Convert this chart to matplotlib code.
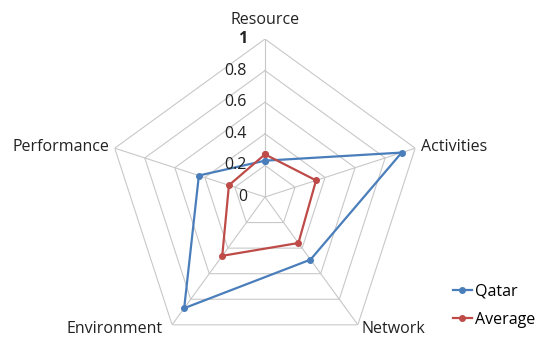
import numpy as np
import matplotlib
matplotlib.use('Agg')
import matplotlib.pyplot as plt

CATEGORIES = ['Resource', 'Activities', 'Network', 'Environment', 'Performance']
QATAR = [0.23, 0.91, 0.49, 0.87, 0.44]
AVERAGE = [0.27, 0.34, 0.36, 0.46, 0.24]
TICKS = [0, 0.2, 0.4, 0.6, 0.8, 1]
TICK_LABELS = ['0', '0.2', '0.4', '0.6', '0.8', '1']

plt.rcParams['font.family'] = ['Open Sans', 'DejaVu Sans']

fig = plt.figure(figsize=(5.39, 3.38), dpi=100)
ax = fig.add_axes([0.1985, -0.0503, 0.5862, 0.9349], projection='polar')
ax.set_theta_offset(np.pi / 2)
ax.set_theta_direction(-1)
ax.set_ylim(0, 1)
ax.grid(False)
ax.spines['polar'].set_visible(False)
ax.set_xticks([])
ax.set_yticks([])
ax.patch.set_alpha(0)

n = len(CATEGORIES)
angles = np.linspace(0, 2 * np.pi, n, endpoint=False)
closed = np.append(angles, angles[0])

grid_color = '#c8c8c8'
for r in TICKS[1:]:
    ax.plot(closed, [r] * (n + 1), color=grid_color, lw=0.8, zorder=1)
for a in angles:
    ax.plot([a, a], [0, 1], color=grid_color, lw=0.8, zorder=1)

blue = '#4a7ebb'
red = '#be4b48'
ax.plot(closed, QATAR + QATAR[:1], color=blue, lw=1.6, marker='o', ms=4, label='Qatar', zorder=3)
ax.plot(closed, AVERAGE + AVERAGE[:1], color=red, lw=1.6, marker='o', ms=4, label='Average', zorder=3)

# radial tick labels along the top spoke
for t, lab in zip(TICKS, TICK_LABELS):
    ax.annotate(lab, xy=(0, t), xytext=(-13, 0), textcoords='offset points',
                ha='right', va='center', fontsize=11.5,
                fontweight='bold' if lab == '1' else 'normal', color='#222222', zorder=4)

# category labels
label_pos = [
    (1.12, 'center', 'center', (0, 0)),
    (1.0, 'left', 'center', (4, 1)),
    (1.0, 'left', 'center', (3, -3)),
    (1.0, 'right', 'center', (-7, -3)),
    (1.0, 'right', 'center', (-4, 1)),
]
for a, name, (r, ha, va, off) in zip(angles, CATEGORIES, label_pos):
    ax.annotate(name, xy=(a, r), xytext=off, textcoords='offset points',
                ha=ha, va=va, fontsize=11.5, color='#222222', annotation_clip=False)

fig.legend(loc='lower right', bbox_to_anchor=(1.02, -0.012), frameon=False, fontsize=11.5,
           handlelength=1.2, handletextpad=0.2, labelspacing=0.75)

fig.savefig('out.png', dpi=100)
